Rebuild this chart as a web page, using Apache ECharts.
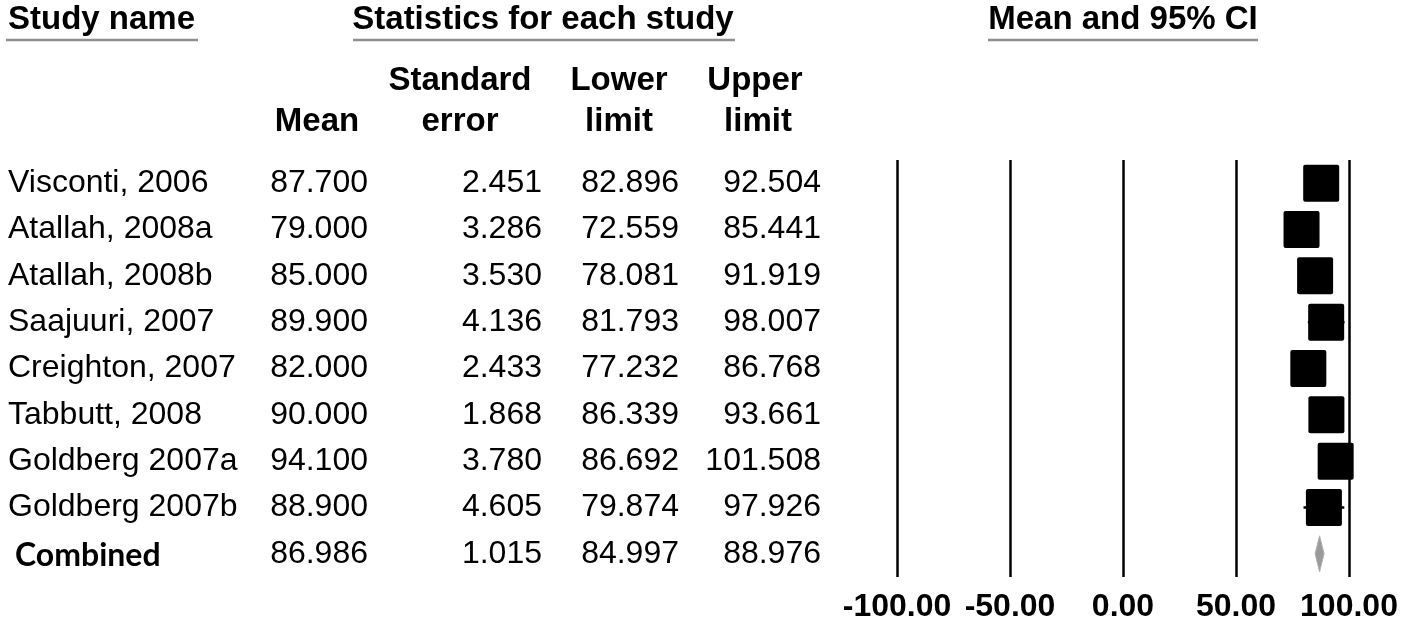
<!DOCTYPE html>
<html>
<head>
<meta charset="utf-8">
<title>Forest plot – Mean and 95% CI</title>
<script src="https://cdn.jsdelivr.net/npm/echarts@6/dist/echarts.min.js"></script>
<style>
  html, body { margin: 0; padding: 0; background: #fff; }
  #chart { width: 1413px; height: 625px; }
</style>
</head>
<body>
<div id="chart"></div>
<script>
// Study-level statistics
const studies = ['Visconti, 2006', 'Atallah, 2008a', 'Atallah, 2008b', 'Saajuuri, 2007',
  'Creighton, 2007', 'Tabbutt, 2008', 'Goldberg 2007a', 'Goldberg 2007b', 'Combined'];
const means = [87.700, 79.000, 85.000, 89.900, 82.000, 90.000, 94.100, 88.900, 86.986];
const stdErrors = [2.451, 3.286, 3.530, 4.136, 2.433, 1.868, 3.780, 4.605, 1.015];
const lowerLimits = [82.896, 72.559, 78.081, 81.793, 77.232, 86.339, 86.692, 79.874, 84.997];
const upperLimits = [92.504, 85.441, 91.919, 98.007, 86.768, 93.661, 101.508, 97.926, 88.976];

// Forest-plot axis
const xMin = -100, xMax = 100, xStep = 50;

const SANS = '"Liberation Sans", Arial, sans-serif';
const BODY = 32;
const HEAD = 33;
const combinedIndex = studies.length - 1;

const chart = echarts.init(document.getElementById('chart'), null, { renderer: 'canvas' });

const gridLeft = 897, gridWidth = 452, gridTop = 160, gridHeight = 417;

// a table column drawn as a left-hand category axis sitting at a given x
function columnAxis(rightEdgeX, values, fmt, align) {
  return {
    type: 'category', gridIndex: 0, position: 'left', inverse: true,
    offset: gridLeft - rightEdgeX,
    data: values,
    axisLine: { show: false }, axisTick: { show: false }, splitLine: { show: false },
    axisLabel: {
      show: true, interval: 0, margin: 0, align: align || 'right',
      fontFamily: SANS, fontSize: BODY, color: '#000',
      formatter: fmt,
      rich: {
        c: { fontFamily: 'Lato, "Open Sans", sans-serif', fontWeight: 'bold', fontSize: 32,
             color: '#000', padding: [3, 0, 0, 7] }
      }
    }
  };
}

const fixed3 = v => Number(v).toFixed(3);

function headerText(x, y, text, align) {
  return {
    type: 'text', x: x, y: y,
    style: { text: text, fontFamily: SANS, fontWeight: 'bold', fontSize: HEAD, fill: '#000',
             align: align || 'left', verticalAlign: 'middle' }
  };
}
function underline(x1, x2, y) {
  return {
    type: 'line', shape: { x1: x1, y1: y, x2: x2, y2: y },
    style: { stroke: '#8f8f8f', lineWidth: 2.5 }
  };
}

const option = {
  backgroundColor: '#fff',
  animation: false,
  grid: { left: gridLeft, top: gridTop, width: gridWidth, height: gridHeight, containLabel: false },
  xAxis: {
    type: 'value', min: xMin, max: xMax, interval: xStep,
    axisLine: { show: false }, axisTick: { show: false },
    splitLine: { show: true, showMinLine: true, showMaxLine: true,
                 lineStyle: { color: '#000', width: 2.5 } },
    axisLabel: {
      margin: 14, fontFamily: SANS, fontWeight: 'bold', fontSize: 32, color: '#000',
      formatter: v => v.toFixed(2)
    }
  },
  yAxis: [
    {
      type: 'category', gridIndex: 0, inverse: true, data: studies,
      axisLine: { show: false }, axisTick: { show: false }, axisLabel: { show: false },
      splitLine: { show: false }
    },
    columnAxis(8, studies, (v, i) => i === combinedIndex ? '{c|' + v + '}' : v, 'left'),
    columnAxis(368, means, fixed3),
    columnAxis(542, stdErrors, fixed3),
    columnAxis(679, lowerLimits, fixed3),
    columnAxis(821, upperLimits, fixed3)
  ],
  graphic: [
    headerText(8, 20, 'Study name'),
    underline(6, 198, 40),
    headerText(543, 20, 'Statistics for each study', 'center'),
    underline(353, 735, 40),
    headerText(1123, 20, 'Mean and 95% CI', 'center'),
    underline(988, 1258, 40),
    headerText(317, 122, 'Mean', 'center'),
    headerText(460, 81, 'Standard', 'center'),
    headerText(460, 122, 'error', 'center'),
    headerText(619, 81, 'Lower', 'center'),
    headerText(619, 122, 'limit', 'center'),
    headerText(755, 81, 'Upper', 'center'),
    headerText(758, 122, 'limit', 'center')
  ],
  series: [{
    type: 'custom',
    xAxisIndex: 0, yAxisIndex: 0,
    clip: false,
    encode: { x: [1, 2, 3], y: 0 },
    data: studies.map((s, i) => [i, means[i], lowerLimits[i], upperLimits[i]]),
    renderItem: function (params, api) {
      const row = api.value(0);
      const m = api.coord([api.value(1), row]);
      const lo = api.coord([api.value(2), row]);
      const hi = api.coord([api.value(3), row]);
      if (row === combinedIndex) {
        const h = 18;
        return {
          type: 'polygon',
          shape: { points: [[lo[0], m[1]], [m[0], m[1] - h], [hi[0], m[1]], [m[0], m[1] + h]] },
          style: { fill: '#9a9a9a', stroke: '#b0b0b0', lineWidth: 1 }
        };
      }
      const size = 36;
      return {
        type: 'group',
        children: [
          { type: 'line', shape: { x1: lo[0], y1: m[1], x2: hi[0], y2: m[1] },
            style: { stroke: '#000', lineWidth: 2.5 } },
          { type: 'rect',
            shape: { x: m[0] - size / 2, y: m[1] - size / 2 - 0.5, width: size, height: size + 1, r: 2 },
            style: { fill: '#000' } }
        ]
      };
    }
  }]
};

chart.setOption(option);
</script>
</body>
</html>
